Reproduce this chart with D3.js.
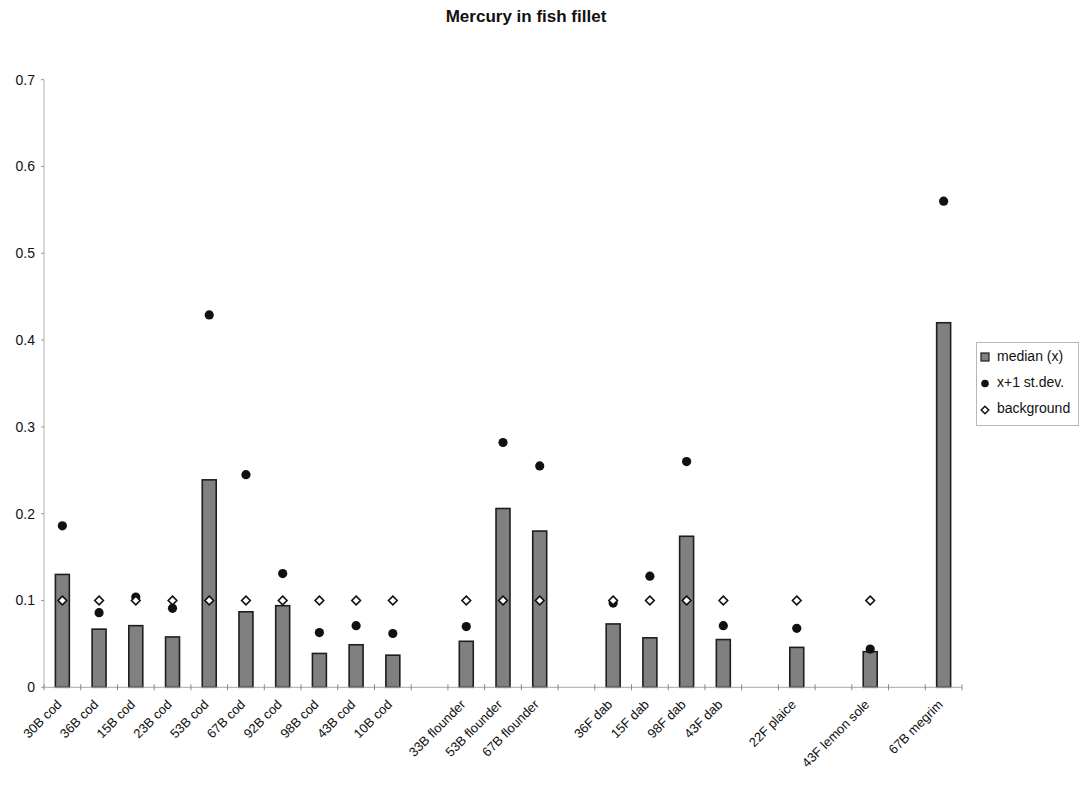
<!DOCTYPE html>
<html>
<head>
<meta charset="utf-8">
<script src="https://cdn.jsdelivr.net/npm/d3@7"></script>
<style>
  html, body { margin: 0; padding: 0; background: #fff; }
  svg { display: block; font-family: "Liberation Sans", Arial, Helvetica, sans-serif; }
</style>
</head>
<body>
<svg id="chart" width="1084" height="787"></svg>
<script>
const categories = ["30B cod","36B cod","15B cod","23B cod","53B cod","67B cod","92B cod","98B cod","43B cod","10B cod","",
  "33B flounder","53B flounder","67B flounder","",
  "36F dab","15F dab","98F dab","43F dab","",
  "22F plaice","","43F lemon sole","","67B megrim"];
const median = [0.130,0.067,0.071,0.058,0.239,0.087,0.094,0.039,0.049,0.037,null,
  0.053,0.206,0.180,null,
  0.073,0.057,0.174,0.055,null,
  0.046,null,0.041,null,0.420];
const stdev = [0.186,0.086,0.104,0.091,0.429,0.245,0.131,0.063,0.071,0.062,null,
  0.070,0.282,0.255,null,
  0.097,0.128,0.260,0.071,null,
  0.068,null,0.044,null,0.560];
const background = [0.1,0.1,0.1,0.1,0.1,0.1,0.1,0.1,0.1,0.1,null,
  0.1,0.1,0.1,null,
  0.1,0.1,0.1,0.1,null,
  0.1,null,0.1,null,null];
const yTicks = [0,0.1,0.2,0.3,0.4,0.5,0.6,0.7];
const seriesNames = ["median (x)","x+1 st.dev.","background"];
const title = "Mercury in fish fillet";

(function () {
const svg = d3.select("#chart");
const mLeft = 44, mRight = 962, mTop = 79.7, mBottom = 687.3;

const x = d3.scaleBand().domain(d3.range(categories.length)).range([mLeft, mRight]).padding(0);
const y = d3.scaleLinear().domain([0, 0.7]).range([mBottom, mTop]);
const bw = x.bandwidth();
const barW = bw * 0.38;

// title
svg.append("text").attr("x", 526).attr("y", 22).attr("text-anchor", "middle")
  .attr("font-size", 17).attr("font-weight", "bold").attr("fill", "#111").text(title);

// y axis
const yAxis = svg.append("g");
yAxis.append("line").attr("x1", mLeft).attr("x2", mLeft).attr("y1", y(0.7)).attr("y2", y(0))
  .attr("stroke", "#b0b0b0").attr("stroke-width", 1);
yAxis.selectAll(".yt").data(yTicks).enter().append("line")
  .attr("x1", mLeft - 3).attr("x2", mLeft).attr("y1", d => y(d)).attr("y2", d => y(d))
  .attr("stroke", "#999");
yAxis.selectAll(".yl").data(yTicks).enter().append("text")
  .attr("x", 35).attr("y", d => y(d)).attr("dy", "0.35em").attr("text-anchor", "end")
  .attr("font-size", 14).attr("fill", "#111").text(d => d === 0 ? "0" : d3.format(".1f")(d));

// bars
svg.append("g").selectAll("rect").data(median.map((v, i) => ({v, i})).filter(d => d.v != null))
  .enter().append("rect")
  .attr("x", d => x(d.i) + (bw - barW) / 2).attr("width", barW)
  .attr("y", d => y(d.v)).attr("height", d => y(0) - y(d.v))
  .attr("fill", "#808080").attr("stroke", "#1e1e1e").attr("stroke-width", 1.6);

// x axis
const xAxis = svg.append("g");
xAxis.append("line").attr("x1", mLeft).attr("x2", mRight).attr("y1", y(0)).attr("y2", y(0))
  .attr("stroke", "#a8a8a8").attr("stroke-width", 1);
xAxis.selectAll(".xt").data(d3.range(categories.length + 1)).enter().append("line")
  .attr("x1", d => mLeft + d * bw).attr("x2", d => mLeft + d * bw)
  .attr("y1", y(0) - 3).attr("y2", y(0) + 3).attr("stroke", "#888");
xAxis.selectAll(".xl").data(categories.map((c, i) => ({c, i})).filter(d => d.c !== ""))
  .enter().append("text")
  .attr("transform", d => `translate(${x(d.i) + bw / 2},${y(0) + 18}) rotate(-45)`)
  .attr("text-anchor", "end").attr("font-size", 13).attr("fill", "#111").text(d => d.c);

// stdev dots
svg.append("g").selectAll("circle").data(stdev.map((v, i) => ({v, i})).filter(d => d.v != null))
  .enter().append("circle")
  .attr("cx", d => x(d.i) + bw / 2).attr("cy", d => y(d.v)).attr("r", 4.6)
  .attr("fill", "#111");

// background diamonds
const diamond = d3.symbol().type(d3.symbolDiamond2).size(48);
svg.append("g").selectAll("path").data(background.map((v, i) => ({v, i})).filter(d => d.v != null))
  .enter().append("path")
  .attr("d", diamond)
  .attr("transform", d => `translate(${x(d.i) + bw / 2},${y(d.v)})`)
  .attr("fill", "#fff").attr("stroke", "#111").attr("stroke-width", 1.6);

// legend
const lg = svg.append("g");
lg.append("rect").attr("x", 976.5).attr("y", 342.5).attr("width", 102).attr("height", 83)
  .attr("fill", "#fff").attr("stroke", "#b8b8b8").attr("stroke-width", 1);
const ly = [356, 382, 408];
lg.append("rect").attr("x", 981).attr("y", ly[0] - 3).attr("width", 8).attr("height", 8)
  .attr("fill", "#808080").attr("stroke", "#1e1e1e").attr("stroke-width", 1.2);
lg.append("circle").attr("cx", 985).attr("cy", ly[1] + 1.5).attr("r", 3.8).attr("fill", "#111");
lg.append("path").attr("d", d3.symbol().type(d3.symbolDiamond2).size(36))
  .attr("transform", `translate(985,${ly[2] + 2})`)
  .attr("fill", "#fff").attr("stroke", "#111").attr("stroke-width", 1.5);
lg.selectAll(".lt").data(seriesNames).enter().append("text")
  .attr("x", 997).attr("y", (d, i) => ly[i]).attr("dy", "0.35em")
  .attr("font-size", 14).attr("fill", "#111").text(d => d);
})();
</script>
</body>
</html>
